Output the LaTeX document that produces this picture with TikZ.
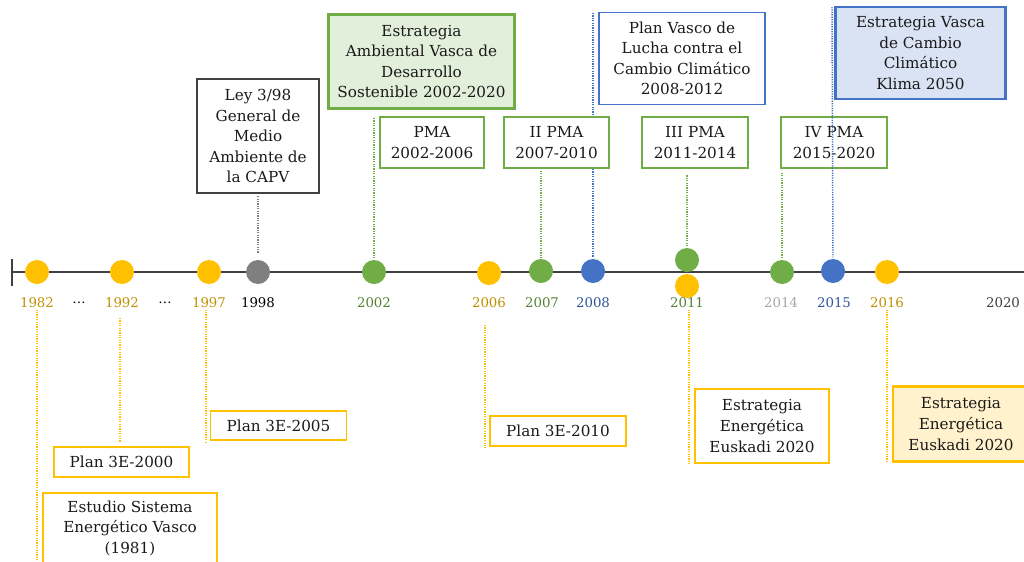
\documentclass[tikz,border=0pt]{standalone}
\usepackage{fontspec}
\setmainfont{DejaVu Serif}
\definecolor{cy}{HTML}{FFC000}
\definecolor{cg}{HTML}{70AD47}
\definecolor{cb}{HTML}{4472C4}
\definecolor{cgr}{HTML}{7F7F7F}
\definecolor{tgold}{HTML}{BF9000}
\definecolor{tgreen}{HTML}{548235}
\definecolor{tblue}{HTML}{2F5597}
\definecolor{tgray}{HTML}{A6A6A6}
\definecolor{tdark}{HTML}{404040}
\definecolor{txt}{HTML}{1A1A1A}
\definecolor{fgreen}{HTML}{E2EFDA}
\definecolor{fblue}{HTML}{DAE3F3}
\definecolor{fyellow}{HTML}{FFF2CC}
\begin{document}
\begin{tikzpicture}[x=0.75pt,y=-0.75pt,
  dotc/.style={circle,minimum size=18pt,inner sep=0pt,draw=none},
  yr/.style={font=\fontsize{10}{12}\selectfont,inner sep=1pt},
  boxs/.style={draw,line width=1.4pt,fill=white,align=center,inner sep=0pt,text=txt,
     font=\fontsize{11.4}{15.4}\selectfont},
  thick box/.style={line width=2.1pt},
  dl/.style={line width=1.1pt,dash pattern=on 0.9pt off 0.9pt},
]
\clip (0,0) rectangle (1024,561);
\useasboundingbox (0,0) rectangle (1024,561);
% timeline
\coordinate (tl0) at (12,272);
\coordinate (tl1) at (1024,272);
\coordinate (tk0) at (12,259);
\coordinate (tk1) at (12,286);
\draw[tdark,line width=1.1pt] (tl0) -- (tl1);
\draw[tdark,line width=1.1pt] (tk0) -- (tk1);
% circles
\node[dotc,fill=cy] (c1982) at (37,272) {};
\node[dotc,fill=cy] (c1992) at (122,272) {};
\node[dotc,fill=cy] (c1997) at (209,272) {};
\node[dotc,fill=cgr] (c1998) at (258,272) {};
\node[dotc,fill=cg] (c2002) at (374,272) {};
\node[dotc,fill=cy] (c2006) at (489,273) {};
\node[dotc,fill=cg] (c2007) at (541,271) {};
\node[dotc,fill=cb] (c2008) at (593,271) {};
\node[dotc,fill=cg] (c2011g) at (687,260) {};
\node[dotc,fill=cy] (c2011y) at (687,286) {};
\node[dotc,fill=cg] (c2014) at (782,272) {};
\node[dotc,fill=cb] (c2015) at (833,271) {};
\node[dotc,fill=cy] (c2016) at (887,272) {};
% year labels
\node[yr,text=tgold] (y1982) at (37,303) {1982};
\node[yr,text=black] (d1) at (79,303) {…};
\node[yr,text=tgold] (y1992) at (122,303) {1992};
\node[yr,text=black] (d2) at (165,303) {…};
\node[yr,text=tgold] (y1997) at (209,303) {1997};
\node[yr,text=black] (y1998) at (258,303) {1998};
\node[yr,text=tgreen] (y2002) at (374,303) {2002};
\node[yr,text=tgold] (y2006) at (489,303) {2006};
\node[yr,text=tgreen] (y2007) at (542,303) {2007};
\node[yr,text=tblue] (y2008) at (593,303) {2008};
\node[yr,text=tgreen] (y2011) at (687,303) {2011};
\node[yr,text=tgray] (y2014) at (781,303) {2014};
\node[yr,text=tblue] (y2015) at (834,303) {2015};
\node[yr,text=tgold] (y2016) at (887,303) {2016};
\node[yr,text=tdark] (y2020) at (1003,303) {2020};
% free ends
\coordinate (t2002) at (374,118);
\coordinate (t2008) at (593,13);
\coordinate (t2015) at (832,7);
\coordinate (s1992) at (120,318);
\coordinate (e1982) at (37,570);
\coordinate (e1997) at (206,442);
\coordinate (s2006) at (485,325);
\coordinate (e2006) at (485,448);
\coordinate (e2011) at (689,464);
\coordinate (e2016) at (887,462);
% line hidden behind II PMA box
\draw[dl,cb,shorten >=1pt] (t2008) -- (c2008.north);
% upper boxes
\node[boxs,draw=tdark,minimum width=91.5pt,minimum height=85pt] (bley) at (258,136)
  {Ley 3/98\\General de\\Medio\\Ambiente de\\la CAPV};
\node[boxs,thick box,draw=cg,fill=fgreen,minimum width=139pt,minimum height=70pt] (beav) at (421.5,61.5)
  {Estrategia\\Ambiental Vasca de\\Desarrollo\\Sostenible 2002-2020};
\node[boxs,draw=cg,minimum width=78pt,minimum height=38pt] (bpma1) at (432,142.5)
  {PMA\\2002-2006};
\node[boxs,draw=cg,minimum width=79pt,minimum height=38pt] (bpma2) at (556.5,142.5)
  {II PMA\\2007-2010};
\node[boxs,draw=cb,minimum width=125pt,minimum height=69pt] (bpv) at (682,58.5)
  {Plan Vasco de\\Lucha contra el\\Cambio Climático\\2008-2012};
\node[boxs,draw=cg,minimum width=79pt,minimum height=38pt] (bpma3) at (695,142.5)
  {III PMA\\2011-2014};
\node[boxs,draw=cg,minimum width=79pt,minimum height=38pt] (bpma4) at (834,142.5)
  {IV PMA\\2015-2020};
\node[boxs,thick box,draw=cb,fill=fblue,minimum width=127pt,minimum height=69pt] (bklima) at (920.5,53)
  {Estrategia Vasca\\de Cambio\\Climático\\Klima 2050};
% lower boxes
\node[boxs,draw=cy,minimum width=102pt,minimum height=22pt] (b3e05) at (278.5,425.5) {Plan 3E-2005};
\node[boxs,draw=cy,minimum width=101pt,minimum height=22pt] (b3e00) at (121.5,462) {Plan 3E-2000};
\node[boxs,draw=cy,minimum width=130pt,minimum height=53pt] (best) at (130,528)
  {Estudio Sistema\\Energético Vasco\\(1981)};
\node[boxs,draw=cy,minimum width=102pt,minimum height=23pt] (b3e10) at (558,431) {Plan 3E-2010};
\node[boxs,draw=cy,minimum width=100pt,minimum height=55pt] (bee1) at (762,426)
  {Estrategia\\Energética\\Euskadi 2020};
\node[boxs,thick box,draw=cy,fill=fyellow,minimum width=102pt,minimum height=56pt] (bee2) at (961,424)
  {Estrategia\\Energética\\Euskadi 2020};
% upper connectors
\draw[dl,cgr,shorten <=2pt,shorten >=5pt] (bley.south) -- (c1998.north);
\draw[dl,cg,shorten >=1pt] (t2002) -- (c2002.north);
\draw[dl,cg,shorten <=1.5pt,shorten >=1pt] (bpma2.south -| c2007) -- (c2007.north);
\draw[dl,cg,shorten <=5pt,shorten >=1pt] (bpma3.south -| c2011g) -- (c2011g.north);
\draw[dl,cg,shorten <=3pt,shorten >=1pt] (bpma4.south -| c2014) -- (c2014.north);
\draw[dl,cb,shorten >=1pt] (t2015) -- (c2015.north);
% lower connectors
\draw[dl,cy] (y1982.south) -- (e1982);
\draw[dl,cy,shorten >=3.5pt] (s1992) -- (b3e00.north -| s1992);
\draw[dl,cy] (y1997.south -| e1997) -- (e1997);
\draw[dl,cy] (s2006) -- (e2006);
\draw[dl,cy] (y2011.south -| e2011) -- (e2011);
\draw[dl,cy] (y2016.south) -- (e2016);
\end{tikzpicture}
\end{document}
